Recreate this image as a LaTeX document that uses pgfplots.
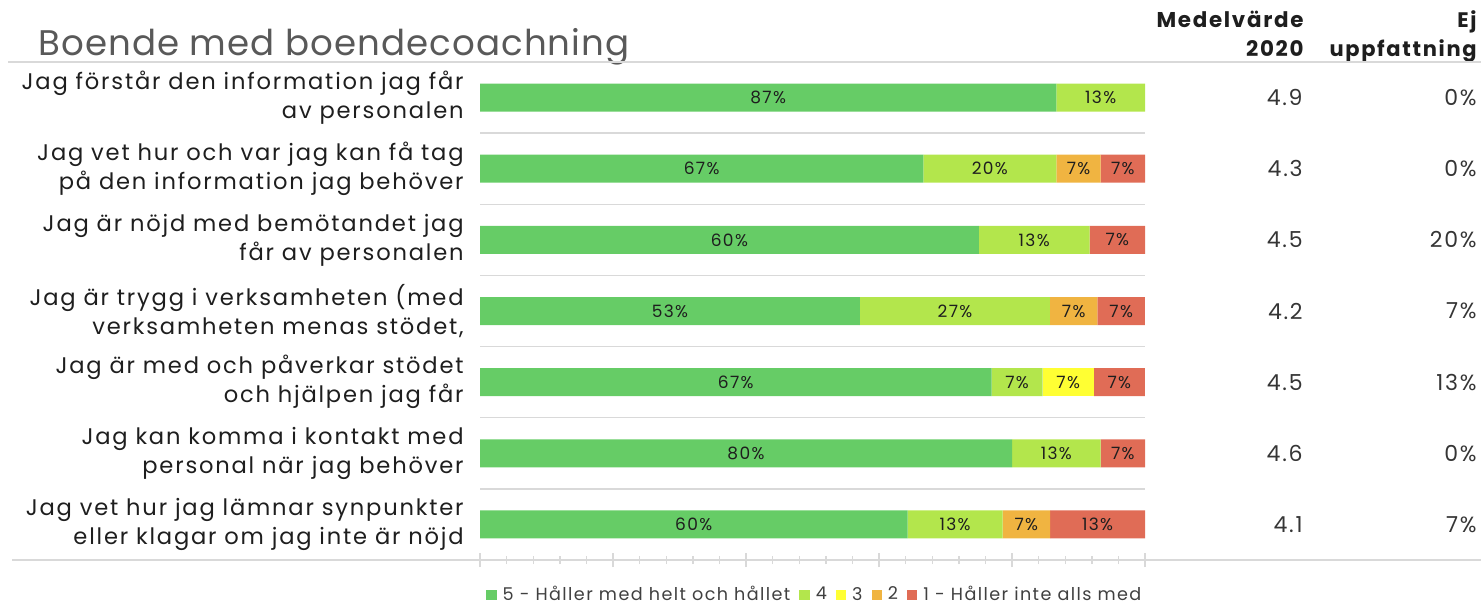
\documentclass[border=0pt]{standalone}
\usepackage{pgfplots}
\pgfplotsset{compat=1.18}
\usepackage{pgfplotstable}
\usepackage{fontspec}
\setmainfont{Poppins}[LetterSpace=8]
\newfontfamily\titlefont{Poppins}[LetterSpace=3]
\definecolor{c5}{RGB}{102,204,102}
\definecolor{c4}{RGB}{179,230,76}
\definecolor{c3}{RGB}{255,255,51}
\definecolor{c2}{RGB}{240,180,65}
\definecolor{c1}{RGB}{224,108,86}
\definecolor{gridc}{RGB}{217,217,217}
\definecolor{txt}{RGB}{30,30,30}
\definecolor{titlec}{RGB}{89,89,89}

% widths = share of those who answered; lab = share of all (as printed)
\pgfplotstableread{
y w lab
7 0.8667 87
6 0.6667 67
5 0.7500 60
4 0.5714 53
3 0.7692 67
2 0.8000 80
1 0.6429 60
}\sfive
\pgfplotstableread{
y w lab
7 0.1333 13
6 0.2000 20
5 0.1667 13
4 0.2857 27
3 0.0769 7
2 0.1333 13
1 0.1429 13
}\sfour
\pgfplotstableread{
y w lab
7 0 0
6 0 0
5 0 0
4 0 0
3 0.0769 7
2 0 0
1 0 0
}\sthree
\pgfplotstableread{
y w lab
7 0 0
6 0.0667 7
5 0 0
4 0.0714 7
3 0 0
2 0 0
1 0.0714 7
}\stwo
\pgfplotstableread{
y w lab
7 0 0
6 0.0667 7
5 0.0833 7
4 0.0714 7
3 0.0769 7
2 0.0667 7
1 0.1429 13
}\sone
\pgfplotstableread{
y pos mean ej
7 1303 4.9 0
6 1303 4.3 0
5 1303 4.5 20
4 1303 4.2 7
3 1303 4.5 13
2 1303 4.6 0
1 1303 4.1 7
}\side

\begin{document}
\begin{tikzpicture}
\useasboundingbox (0bp,0bp) rectangle (740.5bp,303bp);
% title
\node[anchor=base west, inner sep=0pt, text=titlec, font=\titlefont\fontsize{17.8bp}{22bp}\selectfont] at (19bp,275bp) {Boende med boendecoachning};
% headers
\node[anchor=base east, inner sep=0pt, align=right, text=txt, font=\fontsize{10.7bp}{14.5bp}\selectfont\bfseries] at (652bp,274.5bp) {Medelvärde\\2020};
\node[anchor=base east, inner sep=0pt, align=right, text=txt, font=\fontsize{10.5bp}{14.5bp}\selectfont\bfseries] at (738.5bp,274.5bp) {Ej\\uppfattning};
% frame lines
\draw[gridc, line width=1bp] (4bp,272bp) -- (740.5bp,272bp);
\draw[gridc, line width=1bp] (6bp,23bp) -- (740.5bp,23bp);

\begin{axis}[
  at={(240bp,23bp)}, anchor=south west,
  scale only axis, width=332.5bp, height=249bp,
  xbar stacked, bar width=14bp,
  xmin=0, xmax=1, ymin=0.5, ymax=7.5,
  axis x line=bottom, axis y line=left,
  axis line style={-},
  x axis line style={draw=gridc, line width=1bp},
  y axis line style={draw=none},
  xtick={0,0.2,0.4,0.6,0.8,1}, minor x tick num=4,
  xticklabels={},
  tick align=center, major tick length=7bp, minor tick length=4bp,
  xtick style={draw=gridc, line width=0.7bp},
  ytick={1,2,3,4,5,6,7},
  ytick style={draw=none},
  minor ytick={1.5,2.5,3.5,4.5,5.5,6.5},
  yminorgrids, minor y grid style={gridc, line width=0.7bp},
  yticklabels={
    {Jag vet hur jag lämnar synpunkter\\eller klagar om jag inte är nöjd},
    {Jag kan komma i kontakt med\\personal när jag behöver},
    {Jag är med och påverkar stödet\\och hjälpen jag får},
    {Jag är trygg i verksamheten (med\\verksamheten menas stödet,},
    {Jag är nöjd med bemötandet jag\\får av personalen},
    {Jag vet hur och var jag kan få tag\\på den information jag behöver},
    {Jag förstår den information jag får\\av personalen}},
  yticklabel style={align=right, inner sep=0pt, xshift=-4.5bp, text=txt,
    font=\fontsize{11.3bp}{14.5bp}\selectfont},
  clip=false,
  /pgf/number format/assume math mode=true,
  point meta=explicit,
  nodes near coords={\pgfmathfloatifflags{\pgfplotspointmeta}{0}{}{\pgfmathprintnumber{\pgfplotspointmeta}\%}},
  every node near coord/.append style={anchor=center, text=txt,
    font=\fontsize{8.5bp}{10bp}\selectfont},
  legend columns=-1,
  legend style={at={(0.505,-0.0703)}, anchor=center, draw=none, fill=none,
    font=\fontsize{8.8bp}{10bp}\selectfont, text=txt!85,
    inner sep=0pt,
    /tikz/every odd column/.append style={column sep=1bp},
    /tikz/every even column/.append style={column sep=2.5bp}},
  every axis plot post/.append style={
    legend image code/.code={\fill[#1] (0bp,-2.6bp) rectangle (5.2bp,2.6bp);}},
]
\addplot[fill=c5, draw=none] table[x=w, y=y, meta=lab] {\sfive};
\addlegendentry{5 - Håller med helt och hållet}
\addplot[fill=c4, draw=none] table[x=w, y=y, meta=lab] {\sfour};
\addlegendentry{4}
\addplot[fill=c3, draw=none] table[x=w, y=y, meta=lab] {\sthree};
\addlegendentry{3}
\addplot[fill=c2, draw=none] table[x=w, y=y, meta=lab] {\stwo};
\addlegendentry{2}
\addplot[fill=c1, draw=none] table[x=w, y=y, meta=lab] {\sone};
\addlegendentry{1 - Håller inte alls med}
\end{axis}

\begin{axis}[
  at={(240bp,23bp)}, anchor=south west,
  scale only axis, width=332.5bp, height=249bp,
  xmin=480, xmax=1145, ymin=0.5, ymax=7.5,
  hide axis, clip=false,
  /pgf/number format/assume math mode=true,
  point meta=explicit,
  every node near coord/.append style={anchor=east, inner sep=0pt, text=txt!90,
    font=\fontsize{11bp}{13bp}\selectfont},
]
\addplot[draw=none, mark=none,
  nodes near coords={\pgfmathprintnumber[fixed,fixed zerofill,precision=1]{\pgfplotspointmeta}}]
  table[x=pos, y=y, meta=mean] {\side};
\addplot[draw=none, mark=none,
  nodes near coords={\pgfmathprintnumber{\pgfplotspointmeta}\%}]
  table[x expr=1477, y=y, meta=ej] {\side};
\end{axis}
\end{tikzpicture}
\end{document}
